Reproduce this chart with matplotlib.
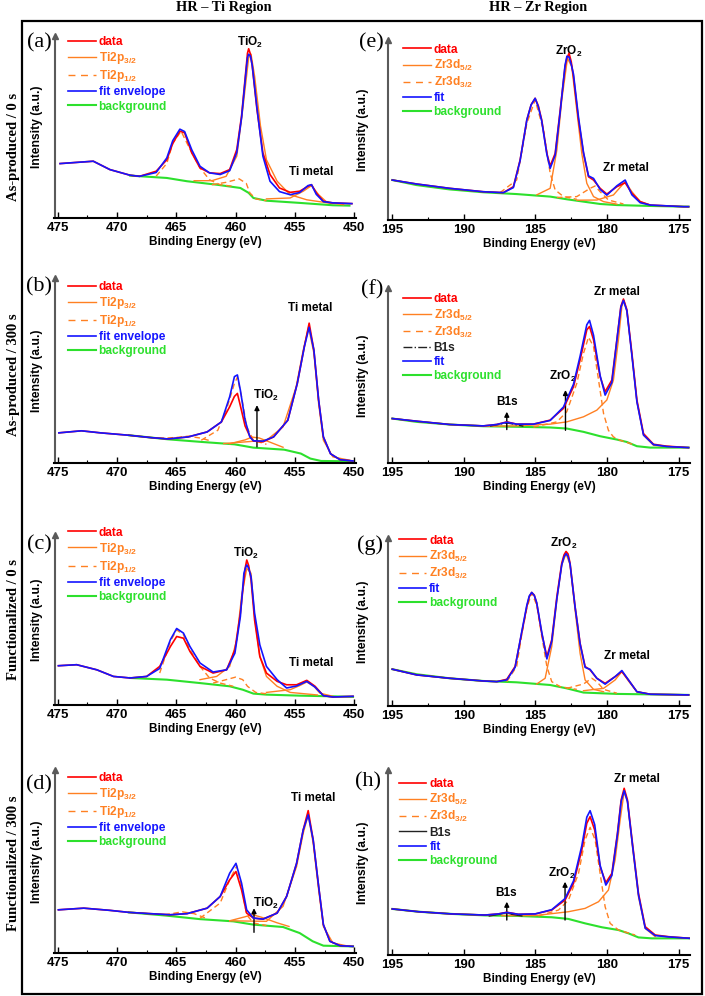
import matplotlib.pyplot as plt
from matplotlib.lines import Line2D
from matplotlib.patches import Rectangle
from matplotlib.ticker import MultipleLocator

plt.rcParams['font.family'] = ['Liberation Sans', 'DejaVu Sans']
plt.rcParams['font.weight'] = 'bold'
plt.rcParams['mathtext.default'] = 'regular'

RED = '#ff0000'
ORANGE = '#ff8022'
BLUE = '#1414ff'
GREEN = '#2de02d'
SERIF = ['Liberation Serif', 'DejaVu Serif']

# ---------------- Ti 2p panels (intensity in % of axis height) ----------------
A_BE = [474.8, 472.0, 470.6, 468.9, 468.1, 466.7, 465.8, 465.3, 464.7, 464.3, 463.7, 463.0, 462.2, 461.3,
        460.5, 459.9, 459.5, 459.1, 459.0, 458.9, 458.75, 458.6, 458.2, 457.7, 457.1, 456.3, 455.4, 454.6,
        453.9, 453.6, 453.2, 452.6, 451.8, 450.2]
A_DATA = [29.9, 31.2, 26.6, 23.5, 22.9, 25.7, 32.0, 41.0, 47.7, 46.8, 35.8, 27.5, 24.8, 24.4, 26.6, 37.6,
          56.0, 83.5, 90.5, 93.0, 90.0, 83.5, 59.6, 35.8, 23.9, 16.5, 14.1, 14.7, 17.4, 18.3, 13.8, 9.2, 8.3, 7.9]
A_FIT = [29.9, 31.2, 26.6, 23.5, 22.9, 25.0, 33.0, 42.5, 48.8, 47.5, 37.5, 28.4, 24.8, 23.9, 26.0, 36.0,
         55.0, 82.0, 88.0, 90.0, 89.0, 84.0, 60.5, 34.0, 20.2, 14.5, 12.8, 14.0, 17.8, 18.3, 13.0, 9.0, 8.3, 7.9]
A_BG_BE = [468.9, 465.8, 464.1, 461.6, 459.6, 458.9, 458.5, 457.4, 454.6, 451.8, 450.4]
A_BG = [23.3, 22.0, 20.2, 18.3, 16.5, 13.8, 11.0, 9.5, 8.3, 7.0, 6.8]
A_OX32_BE = [463.5, 462.0, 460.8, 459.9, 459.4, 458.9, 458.7, 458.4, 457.9, 457.4, 456.5, 455.4, 454.0, 451.8]
A_OX32 = [20.5, 20.5, 22.9, 34.0, 59.6, 88.0, 90.0, 78.0, 50.5, 32.0, 20.2, 12.8, 10.0, 7.9]
A_MET32_BE = [457.4, 455.4, 454.3, 453.6, 453.0, 452.3, 450.9]
A_MET32 = [10.5, 11.0, 14.7, 17.8, 12.8, 8.6, 7.3]
A_OX12_BE = [466.7, 465.8, 465.3, 464.6, 463.9, 463.0, 462.2, 461.3, 460.2]
A_OX12 = [23.0, 30.0, 41.0, 47.7, 38.5, 27.5, 21.0, 18.3, 17.4]
A_MET12_BE = [462.0, 460.8, 459.7, 459.1, 458.8, 458.3, 457.4]
A_MET12 = [18.3, 19.6, 21.5, 19.0, 13.8, 10.5, 9.5]

B_BE = [474.9, 473.0, 471.4, 469.0, 467.1, 465.7, 464.0, 462.4, 461.2, 460.5, 460.1, 459.85, 459.6, 459.2,
        458.8, 458.5, 457.7, 456.8, 455.6, 454.8, 454.2, 453.8, 453.4, 453.0, 452.6, 452.0, 451.2, 450.1]
B_DATA = [16.3, 17.4, 16.3, 15.0, 13.7, 13.0, 14.1, 16.8, 22.2, 30.4, 36.0, 37.6, 31.0, 20.0, 14.5, 11.9,
          11.4, 14.1, 23.1, 43.0, 63.0, 75.6, 61.0, 34.0, 14.1, 5.0, 1.8, 1.1]
B_FIT = [16.3, 17.4, 16.3, 15.0, 13.7, 13.0, 14.1, 16.8, 22.2, 35.8, 46.7, 47.6, 39.4, 23.1, 14.1, 12.0,
         11.8, 14.1, 23.1, 43.0, 63.0, 73.4, 61.0, 34.0, 14.1, 5.0, 1.8, 1.1]
B_BG_BE = [469.0, 465.7, 462.9, 460.1, 458.5, 455.9, 454.5, 453.7, 452.8, 450.1]
B_BG = [15.0, 12.8, 11.4, 10.1, 8.3, 7.2, 5.1, 2.4, 1.1, 0.9]
B_MET32_BE = [461.0, 457.4, 456.0, 454.9, 454.3, 453.85, 453.4, 453.0, 452.6, 451.8, 450.4]
B_MET32 = [10.5, 12.3, 19.5, 41.0, 61.0, 73.4, 59.3, 32.0, 12.3, 3.3, 1.5]
B_MET12_BE = [462.9, 461.5, 460.7, 460.1, 459.85, 459.5, 459.06, 458.5, 457.4]
B_MET12 = [12.3, 17.7, 30.4, 43.0, 46.3, 35.8, 19.5, 12.3, 10.1]
B_OX32_BE = [460.5, 459.2, 458.6, 458.0, 457.0, 456.0]
B_OX32 = [10.4, 12.5, 14.0, 13.5, 11.0, 8.5]
B_OX12_BE = [466.5, 465.0, 464.0, 463.0, 462.0]
B_OX12 = [13.3, 13.8, 14.5, 13.5, 11.8]

C_BE = [474.94, 473.4, 471.7, 470.3, 468.9, 467.5, 466.4, 465.5, 464.97, 464.4, 463.85, 463.0, 461.9, 460.76,
        460.06, 459.6, 459.3, 459.18, 459.06, 458.9, 458.7, 458.4, 457.96, 457.4, 456.5, 455.7, 454.86, 454.0,
        453.3, 452.6, 451.8, 450.1]
C_DATA = [23.1, 23.7, 20.7, 16.8, 15.9, 16.8, 22.7, 34.4, 40.3, 39.3, 31.5, 22.7, 18.8, 20.7, 32.5, 54.0,
          73.6, 81.0, 85.3, 82.0, 73.6, 50.0, 28.6, 18.8, 13.9, 11.9, 11.9, 14.5, 11.0, 5.5, 4.7, 5.1]
C_FIT = [23.1, 23.7, 20.7, 16.8, 15.9, 16.8, 21.5, 38.4, 45.0, 42.3, 34.4, 24.7, 19.4, 20.7, 30.5, 52.0,
         77.5, 80.5, 82.4, 80.5, 75.5, 54.0, 35.4, 22.7, 14.9, 10.0, 11.2, 13.9, 10.5, 5.5, 4.7, 5.1]
C_BG_BE = [468.9, 465.8, 463.0, 460.5, 459.4, 458.5, 457.4, 454.6, 451.8, 450.1]
C_BG = [15.9, 14.9, 12.9, 11.0, 9.0, 6.7, 6.1, 5.5, 5.1, 4.8]
C_OX32_BE = [463.0, 461.6, 460.5, 459.9, 459.5, 459.06, 458.7, 458.4, 457.96, 457.4, 456.5, 455.4, 453.1]
C_OX32 = [14.9, 16.8, 22.7, 38.4, 63.8, 80.4, 77.5, 52.0, 28.6, 16.8, 11.0, 7.4, 5.9]
C_MET32_BE = [457.4, 455.4, 454.6, 454.0, 453.4, 452.9, 451.8]
C_MET32 = [7.4, 9.0, 11.4, 13.5, 11.0, 7.0, 5.1]
C_OX12_BE = [466.4, 465.5, 464.97, 464.4, 463.85, 463.0, 462.2, 461.3, 460.2]
C_OX12 = [18.8, 37.4, 44.2, 41.3, 32.5, 22.7, 15.9, 12.9, 11.0]
C_MET12_BE = [461.9, 460.8, 460.0, 459.4, 459.0, 458.3, 457.4]
C_MET12 = [12.9, 14.9, 16.4, 14.9, 11.0, 7.4, 6.6]

D_BE = [474.94, 472.8, 470.6, 469.0, 467.2, 465.5, 464.1, 462.4, 461.3, 460.5, 459.97, 459.5, 459.07, 458.5,
        457.7, 456.5, 455.7, 454.86, 454.3, 453.88, 453.46, 453.0, 452.6, 452.05, 451.2, 450.1]
D_DATA = [23.6, 24.5, 23.3, 22.2, 21.5, 20.9, 21.5, 24.5, 30.9, 40.0, 44.5, 34.5, 21.8, 19.1, 18.5, 21.8,
          30.9, 49.0, 67.3, 77.8, 61.8, 36.4, 15.5, 6.4, 4.0, 3.6]
D_FIT = [23.6, 24.5, 23.3, 22.2, 21.5, 20.9, 21.5, 24.5, 30.9, 43.6, 49.0, 38.2, 23.6, 19.1, 18.5, 21.8,
         30.9, 49.0, 67.3, 75.5, 61.8, 36.4, 15.5, 6.4, 4.0, 3.6]
D_BG_BE = [469.0, 465.8, 463.0, 460.2, 458.5, 456.0, 454.6, 453.5, 452.6, 450.1]
D_BG = [22.2, 20.4, 18.5, 17.3, 15.5, 14.2, 10.9, 6.4, 4.0, 3.6]
D_MET32_BE = [460.5, 457.4, 456.0, 454.86, 454.3, 453.88, 453.46, 453.0, 452.6, 451.8, 450.4]
D_MET32 = [17.6, 17.3, 25.5, 47.3, 65.5, 75.5, 60.0, 34.5, 14.5, 5.5, 3.6]
D_MET12_BE = [463.0, 461.3, 460.5, 459.9, 459.5, 459.07, 458.5, 457.4]
D_MET12 = [19.0, 27.3, 40.0, 47.6, 36.4, 20.9, 16.4, 15.0]
D_OX32_BE = [460.5, 459.2, 458.6, 457.8, 456.5, 455.5]
D_OX32 = [17.6, 19.8, 21.0, 19.5, 16.5, 14.5]
D_OX12_BE = [466.0, 464.5, 463.5, 462.5]
D_OX12 = [20.8, 22.5, 21.5, 19.0]

# ---------------- Zr 3d panels ----------------
E_BE = [195.0, 193.3, 191.0, 188.64, 187.24, 186.54, 186.07, 185.6, 185.3, 185.02, 184.8, 184.56, 184.2,
        183.97, 183.62, 183.27, 182.93, 182.8, 182.65, 182.5, 182.34, 181.99, 181.64, 181.29, 180.94, 180.48,
        180.01, 179.31, 178.73, 178.26, 177.68, 176.98, 174.65, 174.3]
E_DATA = [22.2, 20.0, 17.6, 15.7, 15.2, 18.5, 33.3, 55.6, 64.0, 67.6, 63.5, 55.6, 37.0, 30.0, 37.0, 61.0,
          85.2, 90.0, 92.6, 88.0, 79.6, 55.6, 37.0, 24.0, 22.2, 17.6, 14.4, 18.5, 20.7, 14.8, 10.2, 8.3, 7.4, 7.4]
E_FIT = [22.2, 20.0, 17.6, 15.7, 15.2, 18.0, 33.0, 55.6, 64.0, 67.6, 63.0, 55.0, 36.5, 28.7, 36.0, 60.0,
         86.0, 91.0, 90.5, 86.5, 81.0, 57.0, 37.5, 24.5, 23.1, 17.0, 13.8, 19.0, 22.2, 14.0, 9.6, 8.3, 7.4, 7.4]
E_BG_BE = [195.0, 193.3, 191.0, 188.64, 186.3, 183.97, 182.8, 181.64, 180.48, 179.31, 176.98, 174.3]
E_BG = [22.2, 19.4, 17.0, 15.4, 14.4, 13.0, 11.5, 10.2, 8.9, 8.3, 7.8, 7.4]
E_OX52_BE = [184.9, 183.97, 183.5, 183.16, 182.76, 182.46, 182.11, 181.76, 181.41, 180.94, 180.24, 179.31]
E_OX52 = [14.0, 17.6, 39.0, 66.7, 89.8, 85.2, 61.0, 37.0, 20.4, 13.0, 10.2, 8.8]
E_MET52_BE = [182.11, 180.71, 179.55, 178.73, 178.26, 177.68, 176.98]
E_MET52 = [11.0, 11.1, 13.9, 21.3, 15.7, 10.2, 8.3]
E_OX32_BE = [187.47, 186.31, 185.6, 185.02, 184.44, 183.97, 183.62, 183.04, 182.11]
E_OX32 = [15.2, 22.2, 53.7, 66.7, 50.0, 26.0, 16.7, 13.0, 11.5]
E_MET32_BE = [183.5, 182.11, 181.18, 180.83, 180.48, 179.9, 178.85]
E_MET32 = [12.5, 13.0, 17.6, 18.9, 15.7, 11.1, 8.9]

F_BE = [195.0, 193.3, 191.0, 188.64, 187.7, 187.0, 186.31, 185.14, 183.97, 183.04, 182.34, 181.88, 181.41,
        181.22, 180.94, 180.48, 180.13, 179.66, 179.31, 179.03, 178.85, 178.61, 178.26, 177.91, 177.45, 176.75,
        175.82, 174.3]
F_DATA = [25.4, 23.9, 22.0, 21.2, 22.0, 23.5, 22.2, 22.2, 24.5, 31.2, 43.6, 58.9, 76.1, 78.0, 70.4, 49.3,
          40.7, 47.4, 70.4, 89.5, 93.7, 87.6, 62.7, 36.0, 16.8, 10.7, 9.6, 8.8]
F_FIT = [25.4, 23.9, 22.0, 21.2, 22.0, 23.3, 22.2, 22.2, 24.3, 32.0, 45.0, 61.0, 79.0, 81.5, 73.0, 50.0,
         38.8, 46.0, 70.0, 89.0, 92.9, 87.0, 61.5, 35.0, 16.0, 10.5, 9.4, 8.8]
F_BG_BE = [195.0, 193.3, 191.0, 188.64, 186.31, 183.97, 182.81, 181.64, 180.48, 179.31, 178.61, 177.91,
           176.98, 174.3]
F_BG = [25.4, 23.5, 22.0, 21.0, 20.7, 20.3, 19.7, 17.8, 15.3, 13.4, 12.0, 9.6, 8.8, 8.8]
F_MET52_BE = [188.64, 186.31, 183.97, 182.81, 181.64, 180.71, 180.01, 179.55, 179.2, 178.96, 178.82, 178.61,
              178.26, 177.91, 177.45, 176.75, 174.65]
F_MET52 = [21.0, 21.2, 22.2, 23.5, 26.4, 30.2, 36.0, 47.4, 70.4, 89.5, 92.9, 86.6, 61.8, 35.0, 15.9, 10.1, 8.8]
F_MET32_BE = [185.14, 183.5, 182.81, 182.11, 181.64, 181.29, 180.94, 180.59, 180.24, 179.9, 179.55, 179.08,
              178.15]
F_MET32 = [20.5, 23.5, 29.3, 45.5, 62.7, 71.9, 66.5, 47.4, 28.3, 18.7, 14.9, 13.0, 10.5]
F_B1S_BE = [188.17, 187.47, 187.0, 186.54, 185.84]
F_B1S = [21.1, 22.2, 22.9, 22.2, 21.0]

G_BE = [195.0, 193.3, 191.0, 188.64, 187.7, 187.0, 186.42, 185.96, 185.6, 185.43, 185.26, 185.08, 184.91,
        184.56, 184.2, 183.86, 183.5, 183.16, 183.0, 182.86, 182.72, 182.58, 182.23, 181.88, 181.53, 181.18,
        180.71, 180.13, 179.43, 178.96, 178.5, 177.91, 176.98, 174.3]
G_DATA = [21.9, 18.5, 16.5, 14.9, 14.5, 15.9, 23.5, 43.3, 59.2, 65.0, 67.6, 66.0, 61.2, 43.3, 29.4, 39.4,
          65.2, 85.0, 90.0, 92.0, 90.5, 85.0, 59.2, 37.4, 23.5, 21.5, 16.5, 13.5, 17.5, 20.5, 15.5, 8.5, 7.0, 6.6]
G_FIT = [21.9, 18.5, 16.5, 14.9, 14.5, 15.5, 23.0, 44.0, 60.0, 65.5, 67.6, 65.8, 61.5, 44.0, 28.0, 38.5,
         64.0, 84.0, 88.8, 90.7, 89.0, 84.5, 59.0, 37.0, 23.0, 21.8, 16.5, 13.0, 17.5, 21.1, 15.5, 8.5, 7.0, 6.6]
G_BG_BE = [195.0, 193.3, 191.0, 188.64, 186.31, 183.97, 182.81, 181.64, 179.31, 174.3]
G_BG = [21.9, 18.9, 16.5, 14.9, 14.1, 12.5, 10.5, 8.0, 7.2, 6.6]
G_OX52_BE = [184.91, 184.32, 183.86, 183.5, 183.16, 182.86, 182.58, 182.23, 181.88, 181.53, 180.94, 180.24]
G_OX52 = [13.1, 16.5, 35.4, 63.2, 84.1, 90.7, 84.1, 57.3, 31.4, 15.5, 9.9, 8.5]
G_MET52_BE = [181.64, 180.24, 179.43, 178.96, 178.5, 177.91, 176.98]
G_MET52 = [9.1, 10.5, 15.5, 20.5, 14.9, 8.5, 7.0]
G_OX32_BE = [187.0, 186.31, 185.96, 185.6, 185.26, 184.91, 184.56, 184.2, 183.86, 183.27, 182.11]
G_OX32 = [14.5, 23.5, 42.3, 58.3, 67.2, 60.2, 41.8, 23.5, 14.5, 11.5, 9.9]
G_MET32_BE = [182.81, 181.64, 181.06, 180.71, 180.24, 179.31]
G_MET32 = [10.5, 13.1, 16.5, 14.5, 9.9, 7.6]

H_BE = [195.0, 193.18, 190.85, 188.52, 187.59, 187.0, 186.19, 185.02, 183.86, 182.93, 182.34, 181.76, 181.41,
        181.18, 180.86, 180.48, 180.08, 179.66, 179.27, 179.01, 178.8, 178.57, 178.22, 177.8, 177.33, 176.63,
        175.7, 174.18]
H_DATA = [24.9, 23.4, 22.2, 21.6, 22.2, 23.1, 22.0, 22.2, 24.3, 29.7, 38.7, 56.8, 71.2, 74.8, 67.6, 47.7,
          39.1, 44.1, 65.8, 83.8, 90.1, 83.8, 60.4, 33.3, 15.3, 10.8, 9.9, 9.0]
H_FIT = [24.9, 23.4, 22.2, 21.6, 22.2, 23.0, 22.0, 22.2, 24.5, 30.5, 40.0, 59.0, 74.5, 78.0, 70.5, 48.5,
         37.8, 43.0, 65.0, 83.0, 88.8, 83.0, 59.5, 32.5, 14.5, 10.5, 9.8, 9.0]
H_BG_BE = [195.0, 193.18, 190.85, 188.52, 186.19, 183.86, 182.7, 181.53, 180.36, 179.2, 178.5, 177.8,
           176.87, 174.18]
H_BG = [24.9, 23.4, 22.2, 21.4, 21.1, 20.4, 19.5, 17.1, 15.0, 13.5, 11.7, 9.5, 9.0, 9.0]
H_MET52_BE = [187.35, 185.02, 182.69, 181.53, 180.59, 179.9, 179.43, 179.08, 178.8, 178.57, 178.22, 177.8,
              177.33, 176.63]
H_MET52 = [21.3, 21.3, 23.4, 25.2, 28.8, 35.1, 51.4, 73.0, 88.3, 82.9, 58.6, 31.5, 14.4, 9.9]
H_MET32_BE = [184.79, 183.39, 182.69, 181.99, 181.53, 181.18, 180.83, 180.48, 180.13, 179.78, 179.2, 178.03]
H_MET32 = [21.1, 24.3, 29.7, 44.1, 62.2, 69.0, 62.2, 44.1, 26.1, 17.1, 13.5, 10.8]
H_B1S_BE = [188.22, 187.52, 187.0, 186.65, 185.95]
H_B1S = [21.1, 22.0, 22.9, 22.0, 21.1]

TI_LABELS = ['data', 'Ti2p$_{3/2}$', 'Ti2p$_{1/2}$', 'fit envelope', 'background']
ZR_LABELS = ['data', 'Zr3d$_{5/2}$', 'Zr3d$_{3/2}$', 'fit', 'background']
ZR_B_LABELS = ['data', 'Zr3d$_{5/2}$', 'Zr3d$_{3/2}$', 'B1s', 'fit', 'background']

W, H = 705, 996
fig = plt.figure(figsize=(W / 100, H / 100), dpi=100)


def new_ax(left, top, right, bottom):
    return fig.add_axes([left / W, 1 - bottom / H, (right - left) / W, (bottom - top) / H])


DASH = (0, (4, 2.5))


def panel(ax, xlim, be, data, fit, bg_be, bg, solids, dashes, labels, b1s=None, b1s_style='-',
          leg_at=(0.045, 1.0), ylabelpad=8):
    ax.plot(bg_be, bg, color=GREEN, lw=1.5, zorder=2)
    for x, y in solids:
        ax.plot(x, y, color=ORANGE, lw=1.0, zorder=3)
    for x, y in dashes:
        ax.plot(x, y, color=ORANGE, lw=1.0, ls=DASH, zorder=3)
    if b1s is not None:
        ax.plot(b1s[0], b1s[1], color='#222222', lw=1.0, ls=b1s_style, zorder=3)
    ax.plot(be, data, color=RED, lw=1.2, zorder=4)
    ax.plot(be, fit, color=BLUE, lw=1.2, zorder=5)

    hs = [Line2D([], [], color=RED, lw=1.2),
          Line2D([], [], color=ORANGE, lw=1.0),
          Line2D([], [], color=ORANGE, lw=1.0, ls=(0, (5, 4)))]
    if b1s is not None:
        hs.append(Line2D([], [], color='#222222', lw=1.0, ls=b1s_style))
    hs += [Line2D([], [], color=BLUE, lw=1.2), Line2D([], [], color=GREEN, lw=1.5)]
    ax.legend(hs, labels, loc='upper left', bbox_to_anchor=leg_at, frameon=False, fontsize=8.6,
              labelcolor='linecolor', handlelength=2.3, handletextpad=0.25, labelspacing=0.18,
              borderpad=0, borderaxespad=0)

    ax.set_xlim(*xlim)
    ax.set_ylim(0, 100)
    ax.set_yticks([])
    ax.xaxis.set_major_locator(MultipleLocator(5))
    ax.xaxis.set_minor_locator(MultipleLocator(2.5))
    ax.tick_params(axis='x', which='major', direction='in', length=4, width=1, labelsize=9.5, pad=3)
    ax.tick_params(axis='x', which='minor', direction='in', length=2.5, width=0.8)
    for t in ax.get_xticklabels():
        t.set_fontweight('bold')
    for s in ('top', 'right'):
        ax.spines[s].set_visible(False)
    ax.spines['left'].set_color('#5a5a5a')
    ax.spines['left'].set_linewidth(1.5)
    ax.spines['bottom'].set_linewidth(1.5)
    ax.plot([0], [1], marker='^', ms=4, color='#5a5a5a', transform=ax.transAxes, clip_on=False)
    ax.set_xlabel('Binding Energy (eV)', fontsize=8.5, fontweight='bold', labelpad=1)
    ax.set_ylabel('Intensity (a.u.)', fontsize=8.7, fontweight='bold', labelpad=ylabelpad)


def note(ax, x, y, s):
    ax.text(x, y, s, fontsize=8.5, fontweight='bold', ha='center', va='center', color='black')


def up_arrow(ax, x, y0, y1):
    ax.annotate('', xy=(x, y1), xytext=(x, y0),
                arrowprops=dict(arrowstyle='-|>', color='black', lw=1.0, mutation_scale=7,
                                shrinkA=0, shrinkB=0))


TI_X = (475.27, 449.85)
ZR_X = (195.3, 174.2)

ax = new_ax(54.5, 36, 356, 218)
panel(ax, TI_X, A_BE, A_DATA, A_FIT, A_BG_BE, A_BG,
      [(A_OX32_BE, A_OX32), (A_MET32_BE, A_MET32)], [(A_OX12_BE, A_OX12), (A_MET12_BE, A_MET12)],
      TI_LABELS, leg_at=(0.045, 1.0))
note(ax, 458.8, 96.7, 'TiO$_2$')
note(ax, 453.6, 25.1, 'Ti metal')

ax = new_ax(54.5, 278, 356, 463)
panel(ax, TI_X, B_BE, B_DATA, B_FIT, B_BG_BE, B_BG,
      [(B_MET32_BE, B_MET32), (B_OX32_BE, B_OX32)], [(B_MET12_BE, B_MET12), (B_OX12_BE, B_OX12)],
      TI_LABELS, leg_at=(0.045, 0.985))
up_arrow(ax, 458.2, 8.7, 31.3)
note(ax, 457.4, 36.7, 'TiO$_2$')
note(ax, 453.7, 83.7, 'Ti metal')

ax = new_ax(54.5, 535, 356, 705)
panel(ax, TI_X, C_BE, C_DATA, C_FIT, C_BG_BE, C_BG,
      [(C_OX32_BE, C_OX32), (C_MET32_BE, C_MET32)], [(C_OX12_BE, C_OX12), (C_MET12_BE, C_MET12)],
      TI_LABELS, leg_at=(0.045, 1.05))
note(ax, 459.1, 89.2, 'TiO$_2$')
note(ax, 453.6, 24.7, 'Ti metal')

ax = new_ax(54.5, 770, 356, 953)
panel(ax, TI_X, D_BE, D_DATA, D_FIT, D_BG_BE, D_BG,
      [(D_MET32_BE, D_MET32), (D_OX32_BE, D_OX32)], [(D_MET12_BE, D_MET12), (D_OX12_BE, D_OX12)],
      TI_LABELS, leg_at=(0.045, 0.99))
up_arrow(ax, 458.45, 11.3, 24.5)
note(ax, 457.4, 27.3, 'TiO$_2$')
note(ax, 453.5, 84.5, 'Ti metal')

ax = new_ax(388, 40, 690, 220)
panel(ax, ZR_X, E_BE, E_DATA, E_FIT, E_BG_BE, E_BG,
      [(E_OX52_BE, E_OX52), (E_MET52_BE, E_MET52)], [(E_OX32_BE, E_OX32), (E_MET32_BE, E_MET32)],
      ZR_LABELS, leg_at=(0.05, 0.98), ylabelpad=14)
note(ax, 182.7, 93.5, 'ZrO$_2$')
note(ax, 178.7, 28.7, 'Zr metal')

ax = new_ax(388, 288, 690, 463)
panel(ax, ZR_X, F_BE, F_DATA, F_FIT, F_BG_BE, F_BG,
      [(F_MET52_BE, F_MET52)], [(F_MET32_BE, F_MET32)],
      ZR_B_LABELS, b1s=(F_B1S_BE, F_B1S), b1s_style='-.', leg_at=(0.05, 0.97), ylabelpad=14)
up_arrow(ax, 187.0, 19.1, 29.3)
note(ax, 187.0, 35.0, 'B1s')
up_arrow(ax, 182.9, 18.7, 41.7)
note(ax, 183.1, 49.3, 'ZrO$_2$')
note(ax, 179.3, 98.0, 'Zr metal')

ax = new_ax(388, 538, 690, 706)
panel(ax, ZR_X, G_BE, G_DATA, G_FIT, G_BG_BE, G_BG,
      [(G_OX52_BE, G_OX52), (G_MET52_BE, G_MET52)], [(G_OX32_BE, G_OX32), (G_MET32_BE, G_MET32)],
      ZR_LABELS, leg_at=(0.035, 1.02), ylabelpad=14)
note(ax, 183.0, 97.0, 'ZrO$_2$')
note(ax, 178.6, 29.8, 'Zr metal')

ax = new_ax(388, 770, 690, 955)
panel(ax, ZR_X, H_BE, H_DATA, H_FIT, H_BG_BE, H_BG,
      [(H_MET52_BE, H_MET52)], [(H_MET32_BE, H_MET32)],
      ZR_B_LABELS, b1s=(H_B1S_BE, H_B1S), b1s_style='-', leg_at=(0.036, 0.957), ylabelpad=14)
up_arrow(ax, 187.0, 18.9, 28.8)
note(ax, 187.05, 33.3, 'B1s')
up_arrow(ax, 182.93, 18.9, 39.6)
note(ax, 183.2, 44.1, 'ZrO$_2$')
note(ax, 177.9, 95.1, 'Zr metal')

# frame, titles, row names and panel letters
fig.add_artist(Rectangle((22 / W, 1 - 994 / H), 680 / W, 973 / H, transform=fig.transFigure,
                         fill=False, lw=1.6, color='black'))
fig.text(224 / W, 1 - 8 / H, 'HR – Ti Region', family=SERIF, weight='bold', size=10.3,
         ha='center', va='center')
fig.text(538 / W, 1 - 8 / H, 'HR – Zr Region', family=SERIF, weight='bold', size=10.3,
         ha='center', va='center')
rows = [('As-produced / 0 s', 147), ('As-produced / 300 s', 375),
        ('Functionalized / 0 s', 620), ('Functionalized / 300 s', 863)]
for name, yc in rows:
    fig.text(14 / W, 1 - yc / H, name, family=SERIF, weight='bold', size=10.5, rotation=90,
             ha='center', va='center')
letters = [('(a)', 39, 43), ('(b)', 39, 287), ('(c)', 39, 545), ('(d)', 39, 785),
           ('(e)', 371, 43), ('(f)', 372, 290), ('(g)', 370, 545), ('(h)', 368, 782)]
for s, x, y in letters:
    fig.text(x / W, 1 - y / H, s, family=SERIF, weight='normal', size=16, ha='center', va='center')

fig.savefig('out.png', dpi=100)
